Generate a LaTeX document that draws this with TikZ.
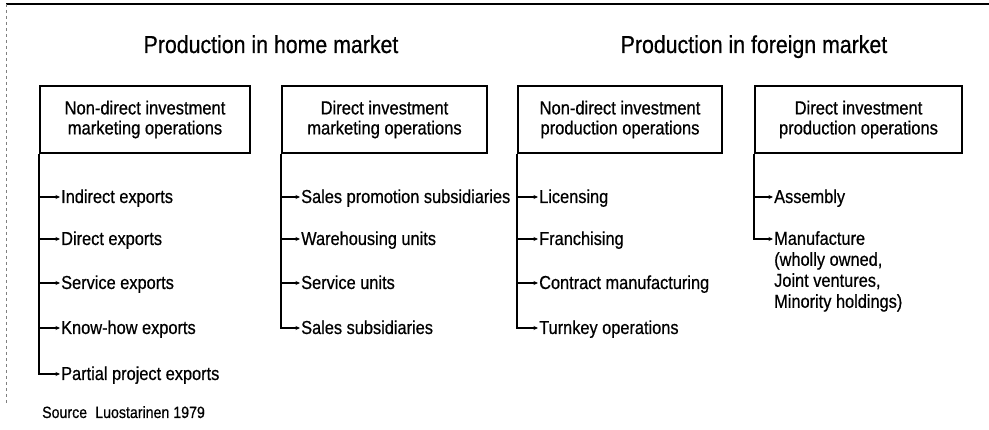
\documentclass[tikz,border=0pt]{standalone}
\usepackage{fontspec}
\setmainfont{Liberation Sans}[FakeStretch=0.87,FakeBold=0.6]
\usetikzlibrary{arrows.meta}

\begin{document}
\begin{tikzpicture}[x=1pt,y=-1pt,
    heading/.style={anchor=base, font=\fontsize{24.5}{26}\selectfont},
    opbox/.style={draw, line width=1.8pt, minimum height=67pt, align=center,
      inner sep=0pt, font=\fontsize{19}{20}\selectfont},
    item/.style={anchor=base west, inner sep=1pt, text height=13pt, text depth=1pt,
      font=\fontsize{18.8}{21}\selectfont},
    trunk/.style={line width=2pt},
    twig/.style={line width=1.3pt, -{Stealth[length=4.5pt,width=4pt]}}]
  \useasboundingbox (0,0) rectangle (989,430);

  % frame of the page
  \draw[line width=1.4pt] (6,4) -- (989,4);
  \draw[gray, dashed, line width=0.6pt] (6,4) -- (6,405);

  % headings
  \node[heading] (home) at (271,53) {Production in home market};
  \node[heading] (foreign) at (754,53) {Production in foreign market};

  % the four kinds of operation
  \node[opbox, minimum width=210pt] (ndm) at (145,119.5) {Non-direct investment\\marketing operations};
  \node[opbox, minimum width=205pt] (dim) at (384.5,119.5) {Direct investment\\marketing operations};
  \node[opbox, minimum width=204pt] (ndp) at (620,119.5) {Non-direct investment\\production operations};
  \node[opbox, minimum width=207pt] (dip) at (858.5,119.5) {Direct investment\\production operations};

  % non-direct investment marketing
  \node[item] (ndm1) at (60,203) {Indirect exports};
  \node[item] (ndm2) at (60,245) {Direct exports};
  \node[item] (ndm3) at (60,289) {Service exports};
  \node[item] (ndm4) at (60,334) {Know-how exports};
  \node[item] (ndm5) at (60,380) {Partial project exports};
  \draw[trunk] (ndm.south west) -- (ndm.south west |- ndm5.west);
  \foreach \i in {1,...,4}
    \draw[twig] (ndm.south west |- ndm\i.west) -- (ndm\i.west);
  \draw[twig] (ndm.south west) |- (ndm5.west);

  % direct investment marketing
  \node[item] (dim1) at (300,203) {Sales promotion subsidiaries};
  \node[item] (dim2) at (300,245) {Warehousing units};
  \node[item] (dim3) at (300,289) {Service units};
  \node[item] (dim4) at (300,334) {Sales subsidiaries};
  \draw[trunk] (dim.south west) -- (dim.south west |- dim4.west);
  \foreach \i in {1,...,3}
    \draw[twig] (dim.south west |- dim\i.west) -- (dim\i.west);
  \draw[twig] (dim.south west) |- (dim4.west);

  % non-direct investment production
  \node[item] (ndp1) at (538,203) {Licensing};
  \node[item] (ndp2) at (538,245) {Franchising};
  \node[item] (ndp3) at (538,289) {Contract manufacturing};
  \node[item] (ndp4) at (538,334) {Turnkey operations};
  \draw[trunk] (ndp.south west) -- (ndp.south west |- ndp4.west);
  \foreach \i in {1,...,3}
    \draw[twig] (ndp.south west |- ndp\i.west) -- (ndp\i.west);
  \draw[twig] (ndp.south west) |- (ndp4.west);

  % direct investment production
  \node[item] (dip1) at (773,203) {Assembly};
  \node[anchor=north west, inner sep=1pt, align=left, font=\fontsize{18.8}{21}\selectfont]
    (dip2) at (773,230) {Manufacture\\(wholly owned,\\Joint ventures,\\Minority holdings)};
  \coordinate (dip2in) at (773,239);
  \draw[trunk] (dip.south west) -- (dip.south west |- dip2in);
  \draw[twig] (dip.south west |- dip1.west) -- (dip1.west);
  \draw[twig] (dip.south west) |- (dip2in);

  \node[anchor=base west, inner sep=0pt, font=\fontsize{16.3}{18}\selectfont]
    (src) at (42,418) {Source\hspace{0.5em}Luostarinen 1979};
\end{tikzpicture}
\end{document}
